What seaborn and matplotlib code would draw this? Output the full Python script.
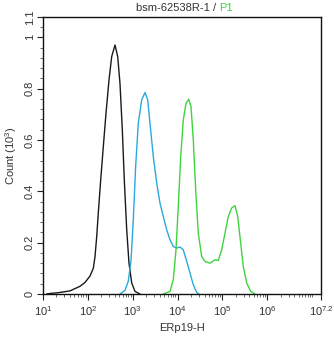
import numpy as np
import pandas as pd
import matplotlib
matplotlib.use("Agg")
import matplotlib.pyplot as plt
from matplotlib.ticker import NullFormatter
import seaborn as sns

# values (x as log10 of intensity, y in 10^3 counts)
ctrl_log = [1.08, 1.156, 1.335, 1.60, 1.825, 1.937, 2.048, 2.122, 2.16, 2.198, 2.233, 2.287, 2.345, 2.405, 2.472,
            2.532, 2.606, 2.666, 2.717, 2.769, 2.813, 2.867, 2.918, 2.978, 3.052, 3.163]
ctrl_cnt = [0.0, 0.002, 0.005, 0.012, 0.03, 0.045, 0.07, 0.10, 0.146, 0.224, 0.315, 0.445, 0.574, 0.704, 0.834,
            0.925, 0.97, 0.925, 0.82, 0.64, 0.445, 0.25, 0.12, 0.043, 0.01, 0.0]

iso_log = [2.717, 2.829, 2.902, 2.963, 3.014, 3.067, 3.125, 3.201, 3.275, 3.335, 3.386, 3.46, 3.536, 3.609, 3.683,
           3.759, 3.833, 3.906, 3.982, 4.055, 4.129, 4.205, 4.278, 4.352, 4.428, 4.479]
iso_cnt = [0.0, 0.014, 0.05, 0.13, 0.29, 0.50, 0.665, 0.756, 0.785, 0.756, 0.665, 0.535, 0.432, 0.354, 0.302,
           0.25, 0.211, 0.185, 0.179, 0.183, 0.172, 0.127, 0.082, 0.036, 0.006, 0.0]

p1_log = [3.683, 3.833, 3.906, 3.966, 4.017, 4.071, 4.129, 4.189, 4.249, 4.301, 4.352, 4.405, 4.463, 4.539, 4.613,
          4.724, 4.836, 4.909, 4.985, 5.059, 5.132, 5.208, 5.282, 5.342, 5.409, 5.467, 5.543, 5.632, 5.728]
p1_cnt = [0.0, 0.01, 0.056, 0.172, 0.34, 0.535, 0.678, 0.743, 0.759, 0.73, 0.60, 0.406, 0.237, 0.146, 0.127,
          0.12, 0.133, 0.131, 0.172, 0.237, 0.302, 0.335, 0.344, 0.302, 0.198, 0.107, 0.043, 0.01, 0.0]

colors = {"ctrl": "#1a1a1a", "iso": "#2aa9dd", "p1": "#3fd43f"}
txt = "#333333"

sns.set_style("white")
plt.rcParams["font.family"] = ["Liberation Sans", "DejaVu Sans"]
plt.rcParams["mathtext.fontset"] = "custom"
plt.rcParams["mathtext.rm"] = "Liberation Sans"

fig = plt.figure(figsize=(3.34, 3.37), dpi=100)
ax = fig.add_axes([43 / 334, 1 - 294 / 337, 278 / 334, 276.7 / 337])

for key, lg, cnt in [("ctrl", ctrl_log, ctrl_cnt), ("iso", iso_log, iso_cnt), ("p1", p1_log, p1_cnt)]:
    df = pd.DataFrame({"x": 10 ** np.array(lg), "y": cnt})
    sns.lineplot(data=df, x="x", y="y", ax=ax, color=colors[key], lw=1.0, sort=False)

ax.set_xscale("log")
ax.set_xlim(10, 10 ** 7.2)
ax.set_ylim(0, 1.078)

xmaj = [10, 100, 1e3, 1e4, 1e5, 1e6, 10 ** 7.2]
xlab = [r"$\mathregular{10^{1}}$", r"$\mathregular{10^{2}}$", r"$\mathregular{10^{3}}$", r"$\mathregular{10^{4}}$",
        r"$\mathregular{10^{5}}$", r"$\mathregular{10^{6}}$", r"$\mathregular{10^{7.2}}$"]
ax.set_xticks(xmaj)
ax.set_xticklabels(xlab)
minors = [k * 10 ** n for n in range(1, 7) for k in range(2, 10)] + [1e7]
ax.set_xticks(minors, minor=True)
ax.xaxis.set_minor_formatter(NullFormatter())

ax.set_yticks([0, 0.2, 0.4, 0.6, 0.8, 1.0, 1.078])
ax.set_yticklabels(["0", "0.2", "0.4", "0.6", "0.8", "1", "1.1"], rotation=90, va="center")
ax.set_yticks(np.arange(0.04, 1.07, 0.04), minor=True)
ax.yaxis.set_minor_formatter(NullFormatter())

ax.tick_params(which="major", direction="out", length=4, width=0.8, colors="#222222", labelsize=8,
               labelcolor=txt, bottom=True, left=True)
ax.tick_params(which="minor", direction="out", length=2, width=0.6, colors="#555555", bottom=True, left=True)
ax.tick_params(axis="x", pad=3)
ax.tick_params(axis="y", pad=2)

for s in ax.spines.values():
    s.set_color("#111111")
    s.set_linewidth(1.0)
    s.set_visible(True)

ax.set_xlabel("ERp19-H", fontsize=8, color=txt, labelpad=4)
ax.set_ylabel(r"Count $\mathregular{(10^{3})}$", fontsize=8, color=txt, labelpad=4)

fig.text(219 / 334, 0.976, "bsm-62538R-1 / ", ha="right", va="center", fontsize=8, color=txt)
fig.text(219 / 334, 0.976, "P1", ha="left", va="center", fontsize=8, color=colors["p1"])

fig.savefig("out.png", dpi=100)
